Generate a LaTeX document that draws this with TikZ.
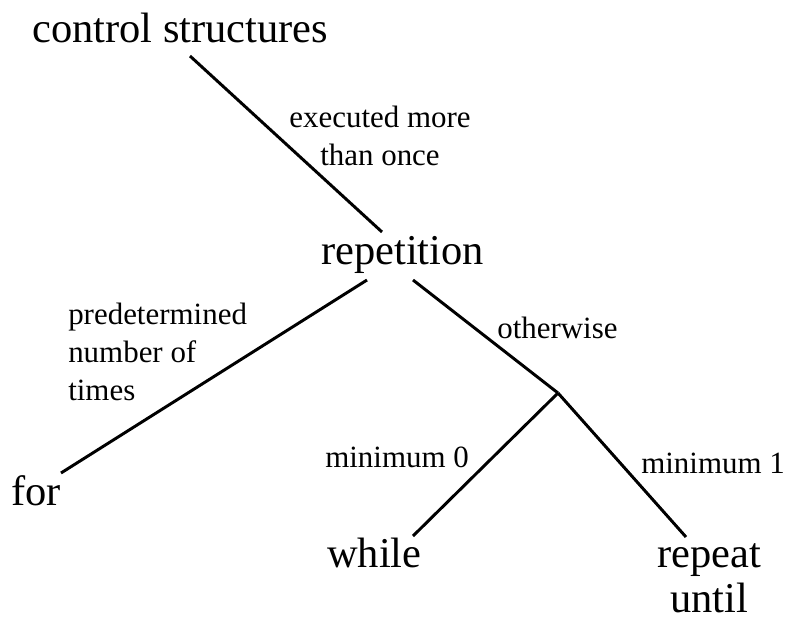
\documentclass[tikz,border=0pt]{standalone}
\usepackage{fontspec}
\setmainfont{Liberation Serif}
\usepackage{tikz}
\usepackage{xcolor}
\newcommand{\bigtxt}{\fontsize{30.2}{31.3}\selectfont}
\newcommand{\lbltxt}{\fontsize{22}{27}\selectfont}
\tikzset{
  term/.style={inner sep=0pt,font=\bigtxt},
  cond/.style={inner sep=0pt,font=\lbltxt},
  branch/.style={line width=2.1pt}
}

\begin{document}
\begin{tikzpicture}[x=0.025cm,y=-0.025cm]
\useasboundingbox (0,0) rectangle (788,620);
% the terms
\node[term,anchor=base west] (ctrl) at (32,42) {control structures};
\node[term,anchor=base west] (rep) at (321,264) {repetition};
\node[term,anchor=base west] (for) at (11,505) {for};
\node[term,anchor=base west] (while) at (327,567) {while};
\node[term,anchor=base,align=center] (repeat) at (709,612) {repeat\\until};
% ends of the branches
\coordinate (ctrl-b) at (190,56);
\coordinate (rep-t) at (382,232);
\coordinate (rep-bl) at (367,280);
\coordinate (rep-br) at (413,280);
\coordinate (for-t) at (61,473);
\coordinate (split) at (558,393);
\coordinate (while-t) at (413,536);
\coordinate (repeat-t) at (686,537);
\draw[branch] (ctrl-b) -- (rep-t);
\draw[branch] (rep-bl) -- (for-t);
\draw[branch] (rep-br) -- (split);
\draw[branch] (split) -- (while-t);
\draw[branch] (split) -- (repeat-t);
% the conditions
\node[cond,anchor=base,align=center] (more) at (380,165) {executed more\\than once};
\node[cond,anchor=base west,align=left] (pre) at (68,400) {predetermined\\number of\\times};
\node[cond,anchor=base west] (other) at (497,338) {otherwise};
\node[cond,anchor=base west] (min0) at (325,467) {minimum 0};
\node[cond,anchor=base west] (min1) at (641,473) {minimum 1};
\end{tikzpicture}
\end{document}
